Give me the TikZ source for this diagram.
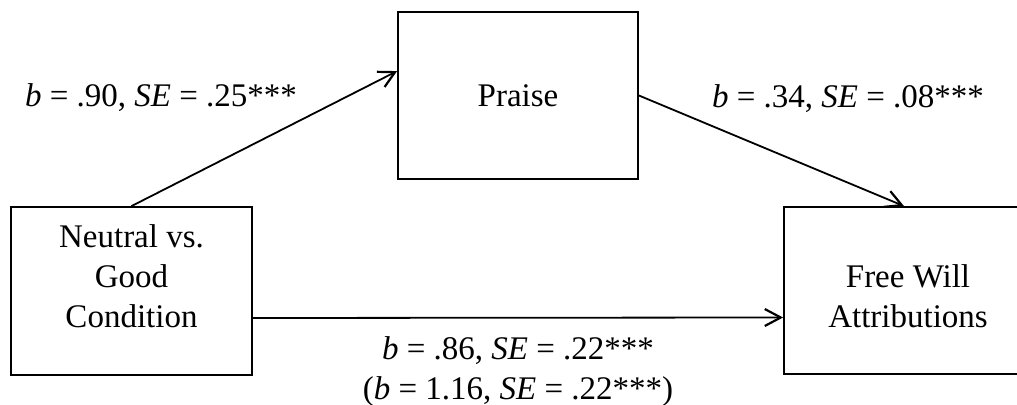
\documentclass[tikz,border=0pt]{standalone}
\usepackage{fontspec}
\setmainfont{Liberation Serif}
\usetikzlibrary{arrows.meta, positioning, calc}
\tikzset{
  box/.style={rectangle, draw=black, fill=white, line width=0.9pt,
    minimum width=120pt, minimum height=83.5pt, align=center,
    inner sep=0pt, font=\fontsize{16.5}{20}\selectfont},
  arrow/.style={-{Straight Barb[length=8pt, width=8.5pt, line width=1.1pt]},
    line width=0.9pt},
  coef/.style={anchor=base, inner sep=0pt, font=\fontsize{16.5}{20}\selectfont}
}

\begin{document}
\begin{tikzpicture}[x=0.5pt, y=-0.5pt]
  \useasboundingbox (0,0) rectangle (1017,405);
  \clip (0,0) rectangle (1017,405);
  % variables
  \node[box, minimum width=120.5pt, minimum height=84pt, text depth=15pt]
    (cond) at (131.5,291) {Neutral vs.\\Good\\Condition};
  \node[box] (praise) at (518,95.5) {Praise};
  \node[box, minimum width=124pt, text height=37.5pt]
    (fwa) at (908,290.5) {Free Will\\Attributions};
  % paths
  \draw[arrow] (cond.north) -- ([yshift=-30pt]praise.north west);
  \draw[arrow] (praise.east) -- ([xshift=-2pt]fwa.north);
  \draw[arrow] ([yshift=-13.5pt]cond.east) -- ([yshift=-13.5pt]fwa.west)
    node[midway, below=9pt, inner sep=0pt, align=center,
         font=\fontsize{16.5}{20}\selectfont] (direct)
    {\textit{b} = .86, \textit{SE} = .22***\\(\textit{b} = 1.16, \textit{SE} = .22***)};
  % coefficients
  \node[coef] (apath) at (161,107) {\textit{b} = .90, \textit{SE} = .25***};
  \node[coef] (bpath) at (848,108) {\textit{b} = .34, \textit{SE} = .08***};
\end{tikzpicture}
\end{document}
